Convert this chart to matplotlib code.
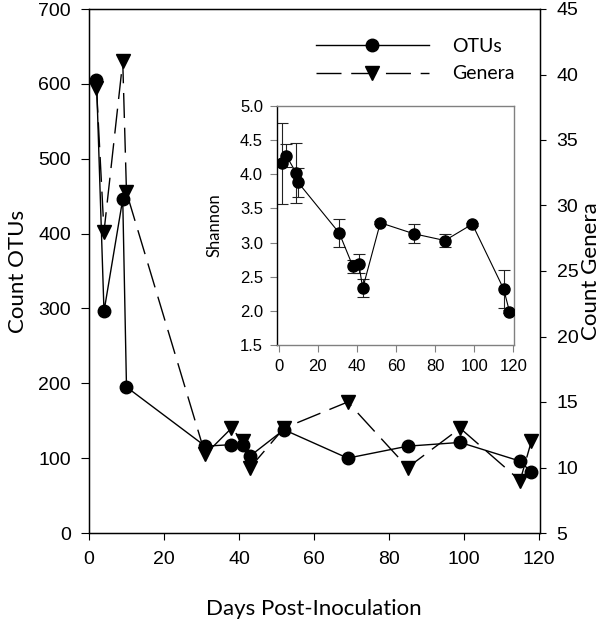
import matplotlib
matplotlib.use("Agg")
import matplotlib.pyplot as plt
import numpy as np

# sampling days and counts
days = [2, 4, 9, 10, 31, 38, 41, 43, 52, 69, 85, 99, 115, 118]
otus = [605, 296, 446, 195, 116, 118, 118, 103, 138, 100, 116, 121, 96, 81]
genera = [39, 28, 41, 31, 11, 13, 12, 10, 13, 15, 10, 13, 9, 12]

# inset: Shannon diversity with error bars
shannon = [4.16, 4.27, 4.02, 3.88, 3.14, 2.65, 2.69, 2.33, 3.29, 3.13, 3.03, 3.27, 2.32, 1.99]
shannon_err = [0.59, 0.17, 0.44, 0.21, 0.20, 0.09, 0.14, 0.13, 0.02, 0.14, 0.10, 0.02, 0.28, 0.02]

TICK_FONT = "Liberation Sans"
LABEL_FONT = "Lato"

W, H = 604, 624
fig = plt.figure(figsize=(W / 100, H / 100), dpi=100)

# main axes (pixel box: left 89, right 540, top 9, bottom 533)
AW, AH = 540 - 89, 533 - 9
ax = fig.add_axes([89 / W, 1 - 533 / H, AW / W, AH / H])
ax.plot(days, otus, color="black", lw=1.0, marker="o", ms=9,
        label="OTUs", zorder=3)
ax.set_xlim(0, 120.3)
ax.set_ylim(0, 700)
ax.set_xticks(np.arange(0, 121, 20))
ax.set_yticks(np.arange(0, 701, 100))
ax.tick_params(axis="y", direction="out", length=6, width=0.8, pad=7,
               labelsize=14)
ax.tick_params(axis="x", direction="out", length=5, width=0.8, pad=8,
               labelsize=14)
for lbl in ax.get_xticklabels() + ax.get_yticklabels():
    lbl.set_fontfamily(TICK_FONT)
for sp in ax.spines.values():
    sp.set_linewidth(1.0)

ax.set_xlabel("Days Post-Inoculation", fontsize=16, family=LABEL_FONT)
ax.set_ylabel("Count OTUs", fontsize=16, family=LABEL_FONT)
ax.xaxis.set_label_coords((314 - 89) / AW, (533 - 599) / AH)
ax.yaxis.set_label_coords((28 - 89) / AW, 0.5)

ax2 = ax.twinx()
ax2.plot(days, genera, color="black", lw=1.0, marker="v", ms=10,
         dashes=(18, 7), label="Genera", zorder=3)
ax2.set_ylim(5, 45)
ax2.set_yticks(np.arange(5, 46, 5))
ax2.tick_params(axis="y", direction="out", length=4, width=0.8, pad=8,
                labelsize=14)
for lbl in ax2.get_yticklabels():
    lbl.set_fontfamily(TICK_FONT)
ax2.set_ylabel("Count Genera", fontsize=16, family=LABEL_FONT)
ax2.yaxis.set_label_coords((581 - 89) / AW, 0.5)

# legend, placed by hand near the top centre
h1, l1 = ax.get_legend_handles_labels()
h2, l2 = ax2.get_legend_handles_labels()
leg = fig.legend(h1 + h2, l1 + l2, loc="upper left",
                 bbox_to_anchor=(306 / W, 1 - 28 / H),
                 frameon=False, borderpad=0, handlelength=5.8,
                 handletextpad=1.2, labelspacing=0.55, numpoints=1,
                 prop={"family": LABEL_FONT, "size": 14})

# inset (pixel box: left 277, right 514, top 106, bottom 345)
IW, IH = 514 - 277, 345 - 106
ins = fig.add_axes([277 / W, 1 - 345 / H, IW / W, IH / H])
ins.errorbar(days, shannon, yerr=shannon_err, fmt="none", ecolor="#222222",
             elinewidth=0.8, capsize=4, capthick=0.8, zorder=2)
ins.plot(days, shannon, color="black", lw=0.8, marker="o", ms=8, zorder=3)
ins.set_xlim(-0.8, 120.3)
ins.set_ylim(1.5, 5.0)
ins.set_xticks(np.arange(0, 121, 20))
ins.set_yticks(np.arange(1.5, 5.01, 0.5))
ins.set_yticklabels(["%.1f" % v for v in np.arange(1.5, 5.01, 0.5)])
ins.tick_params(axis="both", direction="out", length=5, width=0.8,
                color="#808080", labelsize=12, pad=5)
for lbl in ins.get_xticklabels() + ins.get_yticklabels():
    lbl.set_fontfamily(TICK_FONT)
for name in ["bottom", "right", "top"]:
    ins.spines[name].set_color("#808080")
ins.spines["left"].set_color("black")
for sp in ins.spines.values():
    sp.set_linewidth(1.0)
ins.set_ylabel("Shannon", fontsize=12, family=LABEL_FONT)
ins.yaxis.set_label_coords((223 - 277) / IW, 0.5)

fig.savefig("out.png", dpi=100)
